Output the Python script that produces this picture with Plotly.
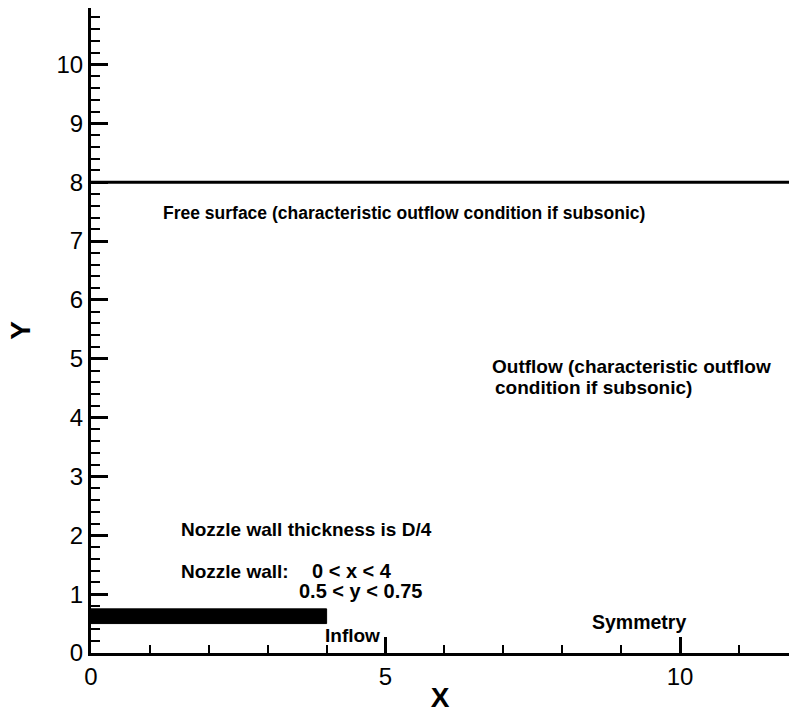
import plotly.graph_objects as go

# Computational domain geometry
x_range = [0, 11.85]
y_range = [0, 10.96]

# Nozzle wall: 0 < x < 4, 0.5 < y < 0.75
wall_x = [0, 4, 4, 0, 0]
wall_y = [0.5, 0.5, 0.75, 0.75, 0.5]

# Free surface boundary at y = 8
surface_x = [0, 12]
surface_y = [8, 8]

# Boundary labels
labels_x = [1.19, 6.77, 6.82, 1.50, 1.50, 3.72, 3.50, 3.94, 8.47]
labels_y = [7.48, 4.87, 4.52, 2.10, 1.39, 1.39, 1.06, 0.30, 0.52]
labels_size = [17.5, 19, 19, 19, 19, 20, 20, 19, 19.5]
labels_text = [
    "Free surface (characteristic outflow condition if subsonic)",
    "Outflow (characteristic outflow",
    "condition if subsonic)",
    "Nozzle wall thickness is D/4",
    "Nozzle wall:",
    "0 < x < 4",
    "0.5 < y < 0.75",
    "Inflow",
    "Symmetry",
]

font_family = "Liberation Sans, Arial, sans-serif"

fig = go.Figure()

fig.add_trace(go.Scatter(
    x=wall_x, y=wall_y, mode="lines", fill="toself",
    fillcolor="black", line=dict(color="black", width=1),
    hoverinfo="skip", showlegend=False,
))
fig.add_trace(go.Scatter(
    x=surface_x, y=surface_y, mode="lines",
    line=dict(color="black", width=3),
    hoverinfo="skip", showlegend=False,
))

annotations = []
for x, y, s, t in zip(labels_x, labels_y, labels_size, labels_text):
    annotations.append(dict(
        x=x, y=y, xref="x", yref="y", text=f"<b>{t}</b>",
        showarrow=False, xanchor="left", yanchor="middle",
        font=dict(family=font_family, size=s, color="black"),
    ))

axis_common = dict(
    showgrid=False, zeroline=False,
    showline=True, linecolor="black", linewidth=3,
    ticks="inside", tickcolor="black", tickwidth=3,
    tickfont=dict(family=font_family, size=24, color="black"),
)

fig.update_layout(
    width=789, height=713,
    margin=dict(l=91, r=0, t=8, b=57),
    paper_bgcolor="white", plot_bgcolor="white",
    annotations=annotations,
    xaxis=dict(
        range=x_range, dtick=5, tick0=0, ticklen=16,
        minor=dict(dtick=1, tick0=0, ticks="inside", ticklen=8,
                   tickwidth=1.5, tickcolor="black"),
        title=dict(text="<b>X</b>", standoff=4,
                   font=dict(family=font_family, size=28, color="black")),
        **axis_common,
    ),
    yaxis=dict(
        range=y_range, dtick=1, tick0=0, ticklen=17,
        minor=dict(dtick=0.2, tick0=0, ticks="inside", ticklen=9,
                   tickwidth=1.5, tickcolor="black"),
        title=dict(text="<b>Y</b>", standoff=18,
                   font=dict(family=font_family, size=28, color="black")),
        **axis_common,
    ),
)

fig.write_html("out.html")
